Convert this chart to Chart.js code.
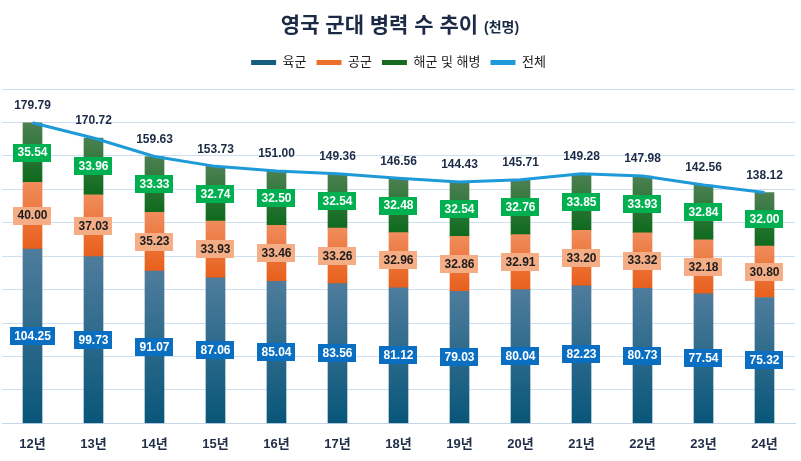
<!DOCTYPE html>
<html>
<head>
<meta charset="utf-8">
<script src="https://cdn.jsdelivr.net/npm/chart.js@4.4.1/dist/chart.umd.min.js"></script>
<style>
  html, body { margin: 0; padding: 0; background: #ffffff; }
  #wrap { position: relative; width: 801px; height: 461px; }
</style>
</head>
<body>
<div id="wrap"><canvas id="c" width="801" height="461"></canvas></div>
<script>
const categories = ['12년','13년','14년','15년','16년','17년','18년','19년','20년','21년','22년','23년','24년'];
const army  = [104.25, 99.73, 91.07, 87.06, 85.04, 83.56, 81.12, 79.03, 80.04, 82.23, 80.73, 77.54, 75.32];
const air   = [40.00, 37.03, 35.23, 33.93, 33.46, 33.26, 32.96, 32.86, 32.91, 33.20, 33.32, 32.18, 30.80];
const navy  = [35.54, 33.96, 33.33, 32.74, 32.50, 32.54, 32.48, 32.54, 32.76, 33.85, 33.93, 32.84, 32.00];
const total = [179.79, 170.72, 159.63, 153.73, 151.00, 149.36, 146.56, 144.43, 145.71, 149.28, 147.98, 142.56, 138.12];

const FONT = "'Liberation Sans', 'Noto Sans CJK KR', sans-serif";
const stackData = [army, air, navy];
const grad = [
  { top: '#4f7c9c', bottom: '#085679', solid: '#135e80', box: '#0b6fc1', text: '#ffffff' },
  { top: '#f08c5c', bottom: '#e85f1b', solid: '#ec6f2c', box: '#f4ad85', text: '#1c1c1c' },
  { top: '#4d8052', bottom: '#0e6a1d', solid: '#166b22', box: '#00b050', text: '#ffffff' }
];

function segColor(k) {
  return function(ctx) {
    const chart = ctx.chart;
    const area = chart.chartArea;
    if (!area || ctx.dataIndex === undefined) return grad[k].solid;
    const i = ctx.dataIndex;
    let base = 0;
    for (let j = 0; j < k; j++) base += stackData[j][i];
    const y = chart.scales.y;
    const yTop = y.getPixelForValue(base + stackData[k][i]);
    const yBot = y.getPixelForValue(base);
    if (!isFinite(yTop) || !isFinite(yBot)) return grad[k].solid;
    const g = chart.ctx.createLinearGradient(0, yTop, 0, yBot);
    g.addColorStop(0, grad[k].top);
    g.addColorStop(1, grad[k].bottom);
    return g;
  };
}

const titlePlugin = {
  id: 'customTitle',
  afterDraw(chart) {
    const c = chart.ctx;
    c.save();
    const main = '영국 군대 병력 수 추이';
    const sub = '(천명)';
    c.font = "bold 21px " + FONT;
    const w1 = c.measureText(main).width;
    c.font = "bold 14px " + FONT;
    const w2 = c.measureText(sub).width;
    const gap = 6;
    const total = w1 + gap + w2;
    const x0 = 400 - total / 2;
    c.fillStyle = '#1c2b45';
    c.textBaseline = 'alphabetic';
    c.textAlign = 'left';
    c.font = "bold 21px " + FONT;
    c.fillText(main, x0, 32);
    c.font = "bold 14px " + FONT;
    c.fillText(sub, x0 + w1 + gap, 32);
    c.restore();
  }
};

const legendSpace = {
  id: 'legendSpace',
  beforeInit(chart) {
    const origFit = chart.legend.fit;
    chart.legend.fit = function() {
      origFit.bind(chart.legend)();
      this.height += 10;
    };
  }
};

const labelPlugin = {
  id: 'segLabels',
  afterDatasetsDraw(chart) {
    const c = chart.ctx;
    c.save();
    c.font = "bold 12px " + FONT;
    c.textAlign = 'center';
    c.textBaseline = 'middle';
    for (let k = 0; k < 3; k++) {
      const meta = chart.getDatasetMeta(k);
      meta.data.forEach((el, i) => {
        const txt = stackData[k][i].toFixed(2);
        const cx = el.x;
        const cy = (el.y + el.base) / 2;
        const w = c.measureText(txt).width + 8;
        const h = 18;
        c.fillStyle = grad[k].box;
        c.fillRect(Math.round(cx - w / 2), Math.round(cy - h / 2), Math.round(w), h);
        c.fillStyle = grad[k].text;
        c.fillText(txt, cx, cy + 0.5);
      });
    }
    const lm = chart.getDatasetMeta(3);
    c.fillStyle = '#1c2b45';
    lm.data.forEach((pt, i) => {
      c.fillText(total[i].toFixed(2), pt.x, pt.y - 17);
    });
    c.restore();
  }
};

const legendItems = [
  { text: '육군', fillStyle: '#135e80', datasetIndex: 0 },
  { text: '공군', fillStyle: '#ec6f2c', datasetIndex: 1 },
  { text: '해군 및 해병', fillStyle: '#166b22', datasetIndex: 2 },
  { text: '전체', fillStyle: '#1e9ad8', datasetIndex: 3 }
];

new Chart(document.getElementById('c'), {
  data: {
    labels: categories,
    datasets: [
      { type: 'bar', label: '육군', data: army, backgroundColor: segColor(0), barThickness: 19, stack: 's' },
      { type: 'bar', label: '공군', data: air, backgroundColor: segColor(1), barThickness: 19, stack: 's' },
      { type: 'bar', label: '해군 및 해병', data: navy, backgroundColor: segColor(2), barThickness: 19, stack: 's' },
      { type: 'line', label: '전체', data: total, borderColor: '#1e9ad8', borderWidth: 3, pointRadius: 0, tension: 0, fill: false, order: -1 }
    ]
  },
  options: {
    responsive: false,
    animation: false,
    devicePixelRatio: 1,
    layout: { padding: { top: 46, left: 2, right: 6, bottom: 4 } },
    plugins: {
      title: { display: false },
      tooltip: { enabled: false },
      legend: {
        display: true,
        position: 'top',
        labels: {
          boxWidth: 25,
          boxHeight: 5,
          padding: 10,
          color: '#222222',
          font: { family: FONT, size: 13 },
          generateLabels: () => legendItems.map(it => ({
            text: it.text, fillStyle: it.fillStyle, strokeStyle: it.fillStyle,
            lineWidth: 0, hidden: false, datasetIndex: it.datasetIndex, fontColor: '#222222'
          }))
        }
      }
    },
    scales: {
      x: {
        stacked: true,
        grid: { display: false },
        border: { display: true, color: '#c5d5e8', width: 1 },
        ticks: { color: '#1f2d45', padding: 5, font: { family: FONT, size: 13, weight: 'bold' } }
      },
      y: {
        stacked: true,
        min: 0,
        max: 200,
        afterFit: (s) => { s.width = 0; },
        ticks: { display: false, stepSize: 20 },
        border: { display: false },
        grid: { color: '#cfdff2', lineWidth: 1, drawTicks: false }
      }
    }
  },
  plugins: [legendSpace, titlePlugin, labelPlugin]
});
</script>
</body>
</html>
